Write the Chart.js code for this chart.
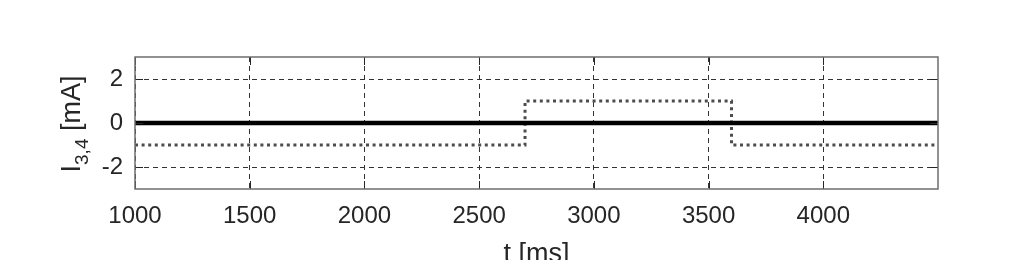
<!DOCTYPE html>
<html>
<head>
<meta charset="utf-8">
<script src="https://cdn.jsdelivr.net/npm/chart.js@4/dist/chart.umd.min.js"></script>
<style>
  html, body { margin: 0; padding: 0; background: #fff; }
  #wrap { width: 1036px; height: 260px; }
</style>
</head>
<body>
<div id="wrap"><canvas id="c" width="1036" height="260"></canvas></div>
<script>
// ---- data ----
const solidTimes = [1000, 4500];
const solidValues = [0, 0];
const dottedTimes = [1000, 2700, 3600, 4500];
const dottedValues = [-1, 1, -1, -1];
const xTicks = [1000, 1500, 2000, 2500, 3000, 3500, 4000];
const yTicks = [-2, 0, 2];
const xLabel = 't [ms]';
const yLabelMain = 'I';
const yLabelSub = '3,4';
const yLabelRest = ' [mA]';

const FONT = '"Liberation Sans", Arial, Helvetica, sans-serif';
const TXT = '#262626';

const toPts = (xs, ys) => xs.map((x, i) => ({ x: x, y: ys[i] }));

const decor = {
  id: 'decor',
  afterDatasetsDraw(chart) {
    const ctx = chart.ctx;
    const a = chart.chartArea;
    const xs = chart.scales.x, ys = chart.scales.y;
    ctx.save();
    ctx.strokeStyle = TXT;
    ctx.lineWidth = 1;
    ctx.beginPath();
    xs.ticks.forEach(t => {
      const px = Math.round(xs.getPixelForValue(t.value)) + 0.5;
      ctx.moveTo(px, a.bottom); ctx.lineTo(px, a.bottom - 8);
      ctx.moveTo(px, a.top); ctx.lineTo(px, a.top + 8);
    });
    ys.ticks.forEach(t => {
      const py = Math.round(ys.getPixelForValue(t.value)) + 0.5;
      ctx.moveTo(a.left, py); ctx.lineTo(a.left + 8, py);
      ctx.moveTo(a.right, py); ctx.lineTo(a.right - 8, py);
    });
    ctx.stroke();
    ctx.strokeStyle = '#6e6e6e';
    ctx.lineWidth = 1.5;
    ctx.strokeRect(a.left, a.top, a.right - a.left, a.bottom - a.top);
    ctx.restore();
  },
  afterDraw(chart) {
    const ctx = chart.ctx;
    const a = chart.chartArea;
    ctx.save();
    ctx.fillStyle = TXT;
    ctx.font = '27px ' + FONT;
    ctx.textAlign = 'center';
    ctx.textBaseline = 'alphabetic';
    ctx.fillText(xLabel, (a.left + a.right) / 2, 262);
    const big = '27px ' + FONT, small = '19px ' + FONT;
    ctx.font = big; const w1 = ctx.measureText(yLabelMain).width;
    const w3 = ctx.measureText(yLabelRest).width;
    ctx.font = small; const w2 = ctx.measureText(yLabelSub).width;
    const total = w1 + w2 + w3;
    ctx.translate(80, (a.top + a.bottom) / 2 + 1);
    ctx.rotate(-Math.PI / 2);
    ctx.textAlign = 'left';
    let x0 = -total / 2;
    ctx.font = big; ctx.fillText(yLabelMain, x0, 0);
    ctx.font = small; ctx.fillText(yLabelSub, x0 + w1, 8);
    ctx.font = big; ctx.fillText(yLabelRest, x0 + w1 + w2, 0);
    ctx.restore();
  }
};

new Chart(document.getElementById('c'), {
  type: 'line',
  data: {
    datasets: [
      {
        data: toPts(solidTimes, solidValues),
        borderColor: '#000',
        borderWidth: 4.5,
        pointRadius: 0,
        fill: false
      },
      {
        data: toPts(dottedTimes, dottedValues),
        borderColor: '#4d4d4d',
        borderWidth: 3,
        borderDash: [3, 3.6],
        borderCapStyle: 'butt',
        stepped: 'before',
        pointRadius: 0,
        fill: false
      }
    ]
  },
  options: {
    responsive: false,
    animation: false,
    devicePixelRatio: 1,
    layout: { padding: { left: 0, top: 57, right: 98, bottom: 0 } },
    plugins: { legend: { display: false }, tooltip: { enabled: false }, title: { display: false } },
    scales: {
      x: {
        type: 'linear',
        min: 1000, max: 4500,
        afterBuildTicks: s => { s.ticks = xTicks.map(v => ({ value: v })); },
        afterFit: s => { s.height = 71; },
        grid: { color: '#333', lineWidth: 1, drawTicks: false },
        border: { display: false, dash: [5, 4] },
        ticks: { color: TXT, font: { family: FONT, size: 24 }, padding: 13, maxRotation: 0, autoSkip: false,
                 callback: v => String(v) }
      },
      y: {
        type: 'linear',
        min: -3, max: 3,
        afterBuildTicks: s => { s.ticks = yTicks.map(v => ({ value: v })); },
        afterFit: s => { s.width = 135; },
        grid: { color: '#333', lineWidth: 1, drawTicks: false },
        border: { display: false, dash: [5, 4] },
        ticks: { color: TXT, font: { family: FONT, size: 24 }, padding: 12, autoSkip: false,
                 callback: v => String(v) }
      }
    }
  },
  plugins: [decor]
});
</script>
</body>
</html>
